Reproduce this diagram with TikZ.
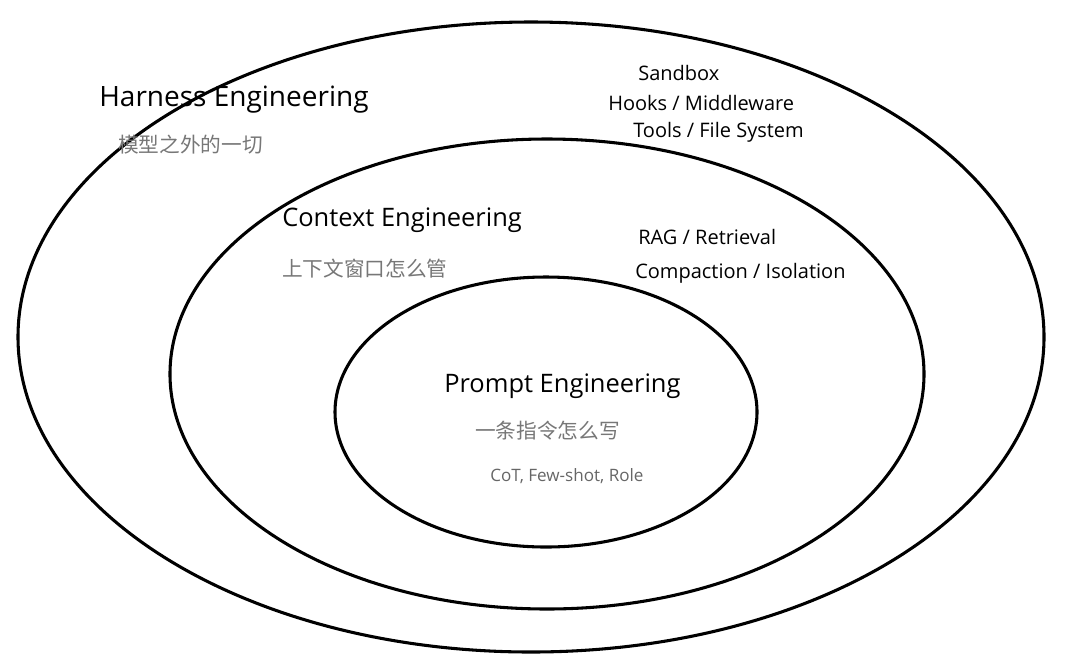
\documentclass[tikz,border=0pt]{standalone}
\usepackage{fontspec}
\setmainfont{Open Sans}
\newfontfamily\cjk{Noto Sans CJK SC}
\usepackage{xcolor}
\usepackage{tikz}
\definecolor{subgray}{HTML}{777777}
\definecolor{notegray}{HTML}{666666}
\tikzset{
	ring/.style={line width=2.3pt},
	layer/.style={anchor=base west,inner sep=0pt,font=\fontsize{19.1pt}{22pt}\selectfont},
	toplayer/.style={layer,font=\fontsize{21pt}{24pt}\selectfont},
	sublabel/.style={anchor=west,inner sep=0pt,text=subgray,font=\cjk\fontsize{15.5pt}{18pt}\selectfont},
	item/.style={anchor=base west,inner sep=0pt,font=\fontsize{15pt}{18pt}\selectfont},
	note/.style={anchor=base west,inner sep=0pt,text=notegray,font=\fontsize{12.8pt}{15pt}\selectfont}
}

\begin{document}
\begin{tikzpicture}[x=0.75pt,y=-0.75pt]
		\useasboundingbox (0,0) rectangle (1080,658);
		% Draw rings
		\foreach \cx/\cy/\rx/\ry in {531/337/513/315,547/374/377/235,546/412/211/135}
		\draw[ring] (\cx,\cy) ellipse [x radius=\rx, y radius=\ry];
		% Harness
		\node[toplayer] (harness) at (99,106) {Harness Engineering};
		\node[sublabel] (harnesszh) at (118,145) {模型之外的一切};
		\node[item] (sandbox) at (638,80) {Sandbox};
		\node[item] (hooks) at (608,110) {Hooks / Middleware};
		\node[item] (tools) at (633,137) {Tools / File System};
		% Context
		\node[layer] (context) at (282,226) {Context Engineering};
		\node[sublabel] (contextzh) at (282,269) {上下文窗口怎么管};
		\node[item] (rag) at (638,244) {RAG / Retrieval};
		\node[item] (compact) at (635,278) {Compaction / Isolation};
		% Prompt
		\node[layer] (prompt) at (444,392) {Prompt Engineering};
		\node[sublabel] (promptzh) at (475,431) {一条指令怎么写};
		\node[note] (cot) at (490,481) {CoT, Few-shot, Role};
	\end{tikzpicture}
\end{document}
